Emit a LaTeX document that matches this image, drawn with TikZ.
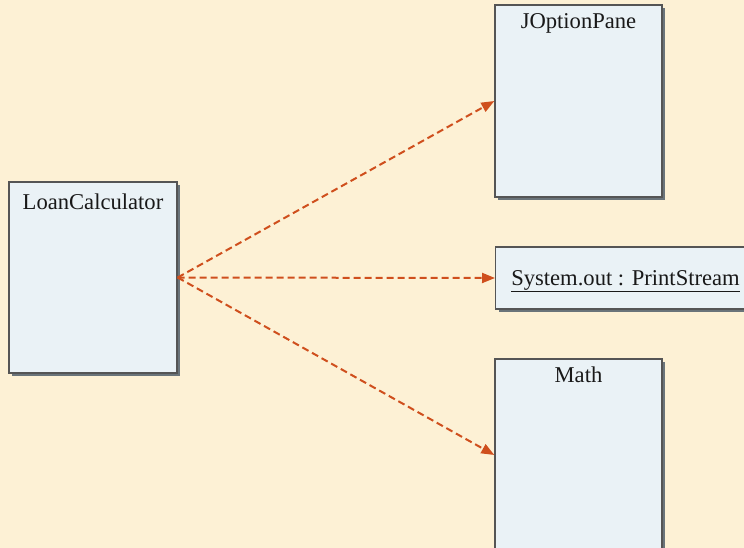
\documentclass[tikz,border=0pt]{standalone}
\usepackage{fontspec}
\setmainfont{Liberation Serif}
\usetikzlibrary{arrows.meta,shadows,positioning}
\definecolor{paper}{HTML}{FDF1D5}
\definecolor{boxfill}{HTML}{EAF2F6}
\definecolor{boxline}{HTML}{555555}
\definecolor{boxshade}{HTML}{6A747A}
\definecolor{calls}{HTML}{CF4F1D}
\begin{document}
\begin{tikzpicture}
  [x=1pt,y=-1pt,
   classbox/.style={draw=boxline,line width=1.3pt,fill=boxfill,inner sep=0pt,
     drop shadow={shadow xshift=3pt,shadow yshift=-3pt,fill=boxshade,opacity=1}},
   classname/.style={font=\fontsize{22.6}{27}\selectfont,text=black!90,anchor=base,inner sep=0pt},
   uses/.style={draw=calls,line width=2pt,dash pattern=on 7pt off 4pt,
     -{Triangle[length=13pt,width=10pt]}}]
  \fill[paper] (0,0) rectangle (744,548);
  \clip (0,0) rectangle (744,548);
  \node[classbox,minimum width=168pt,minimum height=191pt] (loan) at (93,277.5) {};
  \node[classbox,minimum width=167pt,minimum height=192pt] (pane) at (578.5,101) {};
  \node[classbox,minimum width=280pt,minimum height=62pt,anchor=west] (out) at (495,278) {};
  \node[classbox,minimum width=167pt,minimum height=192pt] (math) at (578.5,455) {};
  \node[classname] (loanname) at (93,210) {LoanCalculator};
  \node[classname] (panename) at (578.5,29) {JOptionPane};
  \node[classname] (outname) at (625.5,285) {\underline{System.out : PrintStream}};
  \node[classname] (mathname) at (578.5,382.5) {Math};
  \foreach \to in {pane,out,math}
    \draw[uses] (loan.east) -- (\to.west);

\end{tikzpicture}
\end{document}
